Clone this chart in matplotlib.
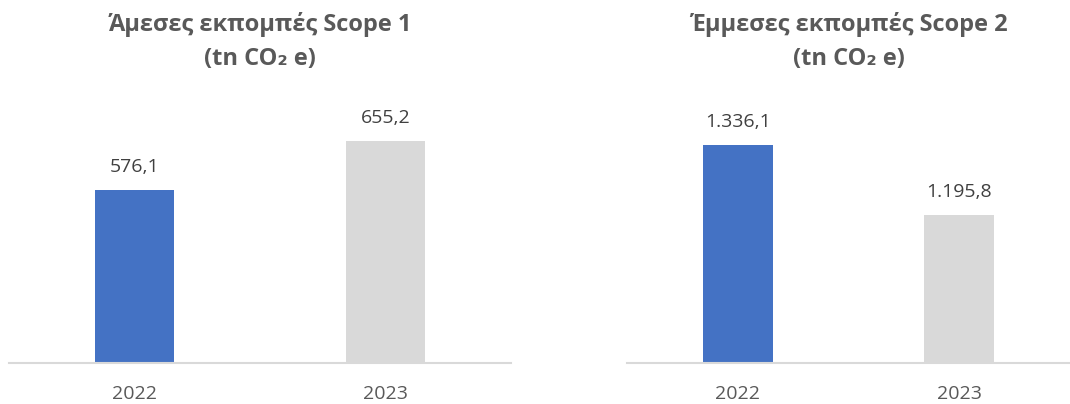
import numpy as np
import matplotlib
matplotlib.use("Agg")
import matplotlib.pyplot as plt
import matplotlib.transforms as mtransforms

plt.rcParams['font.family'] = ['Open Sans', 'DejaVu Sans']

years = ['2022', '2023']
scope1 = [576.1, 655.2]
scope2 = [1336.1, 1195.8]
labels1 = ['576,1', '655,2']
labels2 = ['1.336,1', '1.195,8']
titles = ['Άμεσες εκπομπές Scope 1\n(tn CO₂ e)', 'Έμμεσες εκπομπές Scope 2\n(tn CO₂ e)']
colors = ['#4472c4', '#d9d9d9']

fig = plt.figure(figsize=(10.7, 4.04), dpi=100)
ax1 = fig.add_axes([0.0084, 0.1015, 0.4692, 0.619])
ax2 = fig.add_axes([0.586, 0.1015, 0.414, 0.619])

panels = [(ax1, scope1, labels1, (300, 700)), (ax2, scope2, labels2, (900, 1400))]
x = np.arange(len(years))

for (ax, vals, labs, lim), title in zip(panels, titles):
    ax.bar(x, vals, width=0.315, color=colors)
    ax.set_ylim(*lim)
    ax.set_xlim(-0.5, 1.5)
    for xi, v, lab in zip(x, vals, labs):
        ax.annotate(lab, (xi, v), xytext=(0, 13), textcoords='offset points',
                    ha='center', va='baseline', fontsize=14, color='#404040')
    for s in ['top', 'right', 'left']:
        ax.spines[s].set_visible(False)
    ax.spines['bottom'].set_color('#d9d9d9')
    ax.spines['bottom'].set_linewidth(1.5)
    ax.set_yticks([])
    ax.set_xticks(x)
    ax.set_xticklabels(years, fontsize=14, color='#595959')
    ax.tick_params(axis='x', length=0, pad=16)
    # title pinned to the top of the figure, centred on its own axes
    trans = mtransforms.blended_transform_factory(ax.transAxes, fig.transFigure)
    ax.text(0.5, 1 - 12 / 404, title, transform=trans, ha='center', va='top',
            fontsize=17, fontweight='bold', color='#595959', linespacing=1.55)
    ax.patch.set_alpha(0)

fig.savefig('out.png', dpi=100)
